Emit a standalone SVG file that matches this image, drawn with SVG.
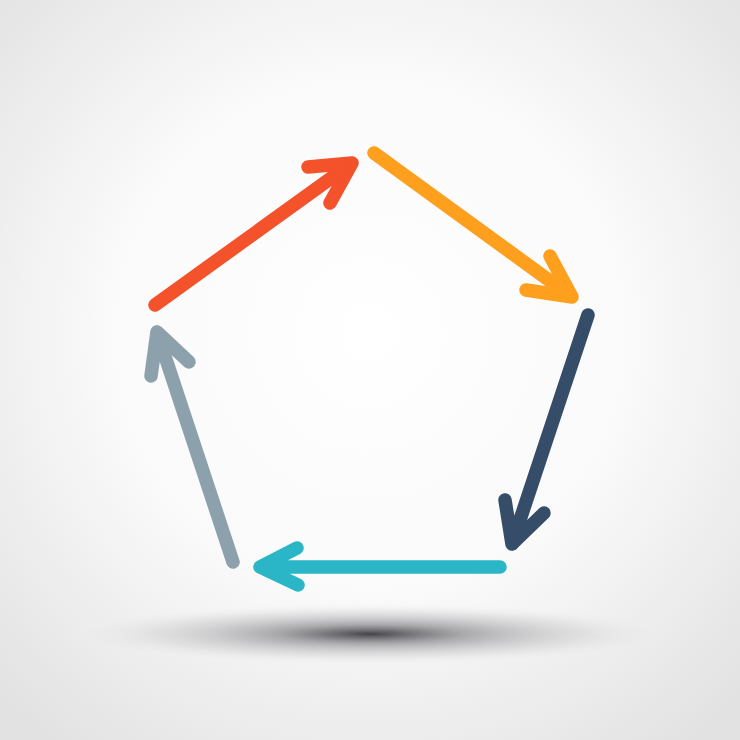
<svg xmlns="http://www.w3.org/2000/svg" width="740" height="740" viewBox="0 0 740 740">
  <defs>
    <radialGradient id="bg" cx="50%" cy="45%" r="70%">
      <stop offset="0" stop-color="#ffffff"/>
      <stop offset="0.5" stop-color="#fafafa"/>
      <stop offset="1" stop-color="#e2e2e2"/>
    </radialGradient>
    <radialGradient id="shadow" cx="50%" cy="50%" r="50%">
      <stop offset="0" stop-color="#3a3a3f" stop-opacity="0.95"/>
      <stop offset="0.3" stop-color="#77777c" stop-opacity="0.6"/>
      <stop offset="0.7" stop-color="#b5b5b8" stop-opacity="0.25"/>
      <stop offset="1" stop-color="#ffffff" stop-opacity="0"/>
    </radialGradient>
    <style>
      .arrow { stroke-width: 13.5; stroke-linecap: round; stroke-linejoin: round; }
    </style>
  </defs>
  <rect width="740" height="740" fill="url(#bg)"/>
  <ellipse cx="370" cy="634" rx="310" ry="32" fill="url(#shadow)"/>
  <g id="connectors">
    <g id="arrow1">
      <path class="arrow" fill="none" stroke="#F4522B" d="M155,305 L352,163 M330,203 L352,163 L308,167"/>
      <path fill="#F4522B" stroke="#F4522B" stroke-width="2" stroke-linejoin="round" d="M352,163 L341,183 L329,168 Z"/>
    </g>
    <g id="arrow2">
      <path class="arrow" fill="none" stroke="#FE9F1D" d="M374,153 L572,297 M526,290 L572,297 L550,256"/>
      <path fill="#FE9F1D" stroke="#FE9F1D" stroke-width="2" stroke-linejoin="round" d="M572,297 L549,293 L561,277 Z"/>
    </g>
    <g id="arrow3">
      <path class="arrow" fill="none" stroke="#354D68" d="M588,315 L512,544 M505,500 L512,544 L544,513"/>
      <path fill="#354D68" stroke="#354D68" stroke-width="2" stroke-linejoin="round" d="M512,544 L508,522 L528,528 Z"/>
    </g>
    <g id="arrow4">
      <path class="arrow" fill="none" stroke="#2BB6C8" d="M500,567 L260,567 M297,548 L260,567 L298,585"/>
      <path fill="#2BB6C8" stroke="#2BB6C8" stroke-width="2" stroke-linejoin="round" d="M260,567 L279,557 L279,576 Z"/>
    </g>
    <g id="arrow5">
      <path class="arrow" fill="none" stroke="#8CA1AB" d="M233,562 L157,332 M189,362 L157,332 L151,376"/>
      <path fill="#8CA1AB" stroke="#8CA1AB" stroke-width="2" stroke-linejoin="round" d="M157,332 L173,347 L154,354 Z"/>
    </g>
  </g>
</svg>
